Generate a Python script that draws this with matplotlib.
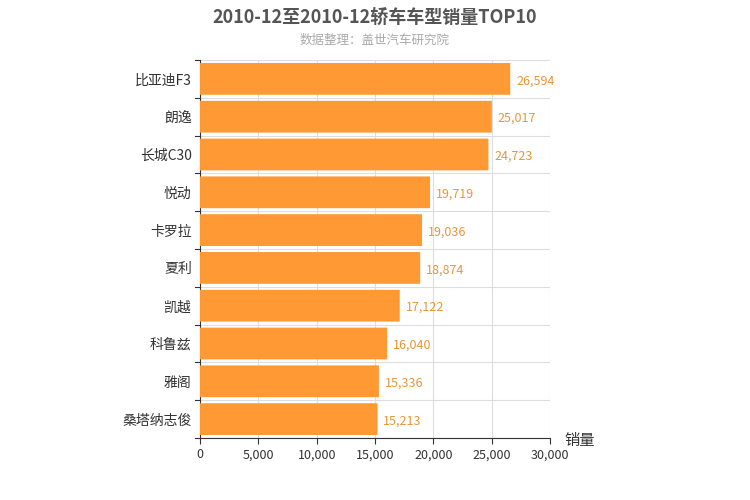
import matplotlib
matplotlib.use("Agg")
import matplotlib.pyplot as plt
from matplotlib.patches import FancyBboxPatch

plt.rcParams['font.family'] = ['Noto Sans CJK SC', 'DejaVu Sans']

categories = ["比亚迪F3", "朗逸", "长城C30", "悦动", "卡罗拉", "夏利", "凯越", "科鲁兹", "雅阁", "桑塔纳志俊"]
values = [26594, 25017, 24723, 19719, 19036, 18874, 17122, 16040, 15336, 15213]
xticks = [0, 5000, 10000, 15000, 20000, 25000, 30000]

fig = plt.figure(figsize=(7.5, 5), dpi=100)
ax = fig.add_axes([0.2667, 0.124, 0.4666, 0.756])
n = len(categories)
ax.set_xlim(0, 30000)
ax.set_ylim(n - 0.5, -0.5)
color = "#ff9933"
h = 0.84
# px per unit: x 350/30000, y 378/10
aspect = (30000 / 350) / (10 / 378)
for i, v in enumerate(values):
    p = FancyBboxPatch((0, i - h / 2), v, h,
                       boxstyle="round,pad=0,rounding_size=0.12",
                       mutation_aspect=1 / aspect, fc=color, ec="none", zorder=3)
    ax.add_patch(p)
    ax.text(v + 500, i + 0.05, f"{v:,}", va="center", ha="left", fontsize=9, color="#e8963a", zorder=4)

ax.set_xticks(xticks)
ax.set_xticklabels([f"{t:,}" for t in xticks], fontsize=9, color="#333")
ax.set_yticks(range(n))
ax.set_yticklabels(categories, fontsize=10, color="#333")
ax.tick_params(axis='y', length=0, pad=6)
ax.tick_params(axis='x', length=4, color="#333")
for x in xticks[1:]:
    ax.axvline(x, color="#dddddd", lw=0.8, zorder=1)
for b in range(n + 1):
    ax.axhline(b - 0.5, color="#dddddd", lw=0.8, zorder=1)
    ax.plot([-400, 0], [b - 0.5, b - 0.5], color="#333", lw=0.8, clip_on=False)
for s in ["top", "right"]:
    ax.spines[s].set_visible(False)
ax.spines["left"].set_color("#333")
ax.spines["bottom"].set_color("#333")

fig.text(0.5, 0.965, "2010-12至2010-12轿车车型销量TOP10", ha="center", va="center", fontsize=13, fontweight="bold", color="#555")
fig.text(0.5, 0.92, "数据整理：盖世汽车研究院", ha="center", va="center", fontsize=9, color="#aaa")
fig.text(0.753, 0.12, "销量", ha="left", va="center", fontsize=11, color="#333")
fig.savefig("out.png", dpi=100)
